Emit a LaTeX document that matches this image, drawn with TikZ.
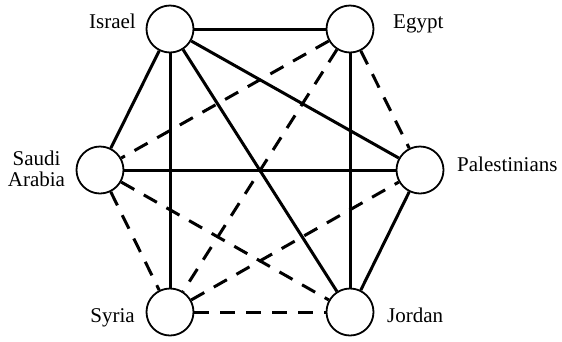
\documentclass[tikz,border=0pt]{standalone}
\usepackage{fontspec}
\setmainfont{Liberation Serif}
\begin{document}
\begin{tikzpicture}[x=1pt,y=-1pt,
  country/.style={circle,draw=black,fill=white,line width=1.8pt,minimum size=47pt,inner sep=0pt},
  lbl/.style={font=\fontsize{21}{21}\selectfont,inner sep=0pt},
  ally/.style={line width=3pt},
  rival/.style={line width=3pt,dash pattern=on 15pt off 11pt}]
\useasboundingbox (0,0) rectangle (562,341);
\node[country] (isr) at (170,29) {};
\node[country] (egy) at (350,29) {};
\node[country] (sau) at (100,170) {};
\node[country] (pal) at (420,170) {};
\node[country] (syr) at (170,312) {};
\node[country] (jor) at (350,312) {};
% solid
\draw[ally] (isr) -- (egy);
\draw[ally] (isr) -- (sau);
\draw[ally] (isr) -- (syr);
\draw[ally] (isr) -- (jor);
\draw[ally] (isr) -- (pal);
\draw[ally] (egy) -- (jor);
\draw[ally] (sau) -- (pal);
\draw[ally] (pal) -- (jor);
% dashed
\draw[rival] (egy) -- (sau);
\draw[rival] (egy) -- (syr);
\draw[rival] (egy) -- (pal);
\draw[rival] (sau) -- (syr);
\draw[rival] (sau) -- (jor);
\draw[rival] (syr) -- (pal);
\draw[rival] (syr) -- (jor);
% labels
\node[lbl,anchor=base east] (lisr) at (136,28) {Israel};
\node[lbl,anchor=base west] (legy) at (393,28) {Egypt};
\node[lbl,anchor=base,align=center] (lsau) at (36.5,186) {Saudi\\Arabia};
\node[lbl,anchor=base west] (lpal) at (457,171) {Palestinians};
\node[lbl,anchor=base east] (lsyr) at (135,322) {Syria};
\node[lbl,anchor=base west] (ljor) at (387,322) {Jordan};
\end{tikzpicture}
\end{document}
